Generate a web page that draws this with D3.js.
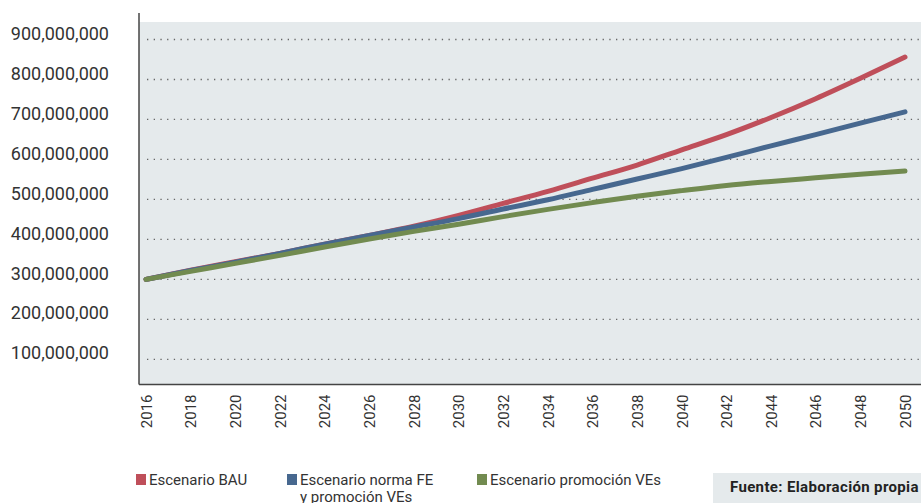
<!DOCTYPE html>
<html>
<head>
<meta charset="utf-8">
<script src="https://cdn.jsdelivr.net/npm/d3@7"></script>
<style>
  body { margin: 0; background: #fff; }
  svg { display: block; font-family: Roboto, "Noto Sans", sans-serif; }
</style>
</head>
<body>
<div id="chart"></div>
<script>
const width = 921;
const height = 503;

// data (every two years)
const years = [2016, 2018, 2020, 2022, 2024, 2026, 2028, 2030, 2032, 2034, 2036, 2038, 2040, 2042, 2044, 2046, 2048, 2050];
const bau = [300e6, 323e6, 344e6, 365e6, 388e6, 410e6, 433e6, 460e6, 490e6, 520e6, 553e6, 586e6, 624e6, 662e6, 705e6, 752e6, 803e6, 856e6];
const normaFE = [300e6, 322e6, 343e6, 365e6, 388e6, 410e6, 431e6, 452e6, 476e6, 499e6, 525e6, 551e6, 577e6, 605e6, 634e6, 662e6, 691e6, 719e6];
const promocion = [300e6, 320e6, 340e6, 360e6, 381e6, 401e6, 420e6, 438e6, 457e6, 475e6, 492e6, 508e6, 522e6, 535e6, 545e6, 554e6, 563e6, 571e6];
const yTicks = [100e6, 200e6, 300e6, 400e6, 500e6, 600e6, 700e6, 800e6, 900e6];
const seriesNames = ["Escenario BAU", "Escenario norma FE", "Escenario promoción VEs"];
const colors = ["#bf4f5a", "#47688f", "#728b50"];

const svg = d3.select("#chart")
    .append("svg")
    .attr("width", width)
    .attr("height", height);

const x = d3.scaleLinear().domain([2016, 2050]).range([146, 905]);
const y = d3.scaleLinear().domain([37e6, 900e6]).range([384.5, 39.5]);

const plotLeft = 139, plotTop = 22, plotBottom = 384.5;

// plot background
svg.append("rect")
    .attr("x", plotLeft)
    .attr("y", plotTop)
    .attr("width", width - plotLeft)
    .attr("height", plotBottom - plotTop)
    .attr("fill", "#e5eaec");

// dotted gridlines
svg.append("g")
  .selectAll("line")
  .data(yTicks)
  .enter().append("line")
    .attr("x1", plotLeft + 8)
    .attr("x2", width)
    .attr("y1", d => y(d))
    .attr("y2", d => y(d))
    .attr("stroke", "#666")
    .attr("stroke-width", 1.3)
    .attr("stroke-dasharray", "1.3,5.4");

// y labels
const yAxis = svg.append("g")
    .attr("transform", `translate(${plotLeft},0)`)
    .call(d3.axisLeft(y).tickValues(yTicks).tickSize(0).tickPadding(30).tickFormat(d3.format(",")));
yAxis.select(".domain").remove();
yAxis.selectAll("text")
    .attr("dy", "-0.02em")
    .attr("fill", "#333")
    .style("font-size", "18px")
    .style("font-family", "Roboto, sans-serif");

// x labels
const xAxis = svg.append("g")
    .attr("transform", `translate(0,${plotBottom})`)
    .call(d3.axisBottom(x).tickValues(d3.range(2016, 2051, 2)).tickSize(0).tickFormat(d3.format("d")));
xAxis.select(".domain").remove();
xAxis.selectAll("text")
    .attr("transform", "rotate(-90)")
    .attr("text-anchor", "end")
    .attr("x", -10)
    .attr("y", 0)
    .attr("dy", "0.35em")
    .attr("fill", "#333")
    .style("font-size", "15px")
    .style("font-family", "Roboto, sans-serif");

// axis lines
svg.append("line")
    .attr("x1", plotLeft).attr("x2", plotLeft)
    .attr("y1", 13).attr("y2", plotBottom)
    .attr("stroke", "#444").attr("stroke-width", 1.5);
svg.append("line")
    .attr("x1", plotLeft).attr("x2", width)
    .attr("y1", plotBottom).attr("y2", plotBottom)
    .attr("stroke", "#444").attr("stroke-width", 1.5);

// lines
const line = d3.line()
    .x((d, i) => x(years[i]))
    .y(d => y(d))
    .curve(d3.curveMonotoneX);

[bau, normaFE, promocion].forEach((s, i) => {
    svg.append("path")
        .datum(s)
        .attr("d", line)
        .attr("fill", "none")
        .attr("stroke", colors[i])
        .attr("stroke-width", 5)
        .attr("stroke-linecap", "round")
        .attr("stroke-linejoin", "round");
});

// legend
const legendX = [136, 287, 477];
const legend = svg.append("g").style("font-size", "15px");
seriesNames.forEach((name, i) => {
    legend.append("rect")
        .attr("x", legendX[i])
        .attr("y", 474)
        .attr("width", 10)
        .attr("height", 11)
        .attr("fill", colors[i]);
    legend.append("text")
        .attr("x", legendX[i] + 13)
        .attr("y", 484.5)
        .attr("fill", "#333")
        .text(name);
});
legend.append("text")
    .attr("x", legendX[1] + 13)
    .attr("y", 502)
    .attr("fill", "#333")
    .text("y promoción VEs");

// source box
svg.append("rect")
    .attr("x", 713)
    .attr("y", 473)
    .attr("width", width - 713)
    .attr("height", 30)
    .attr("fill", "#e5eaec");
svg.append("text")
    .attr("x", 730)
    .attr("y", 491.5)
    .attr("fill", "#222")
    .style("font-size", "15px")
    .style("font-weight", "bold")
    .style("letter-spacing", "0.35px")
    .text("Fuente: Elaboración propia");
</script>
</body>
</html>
